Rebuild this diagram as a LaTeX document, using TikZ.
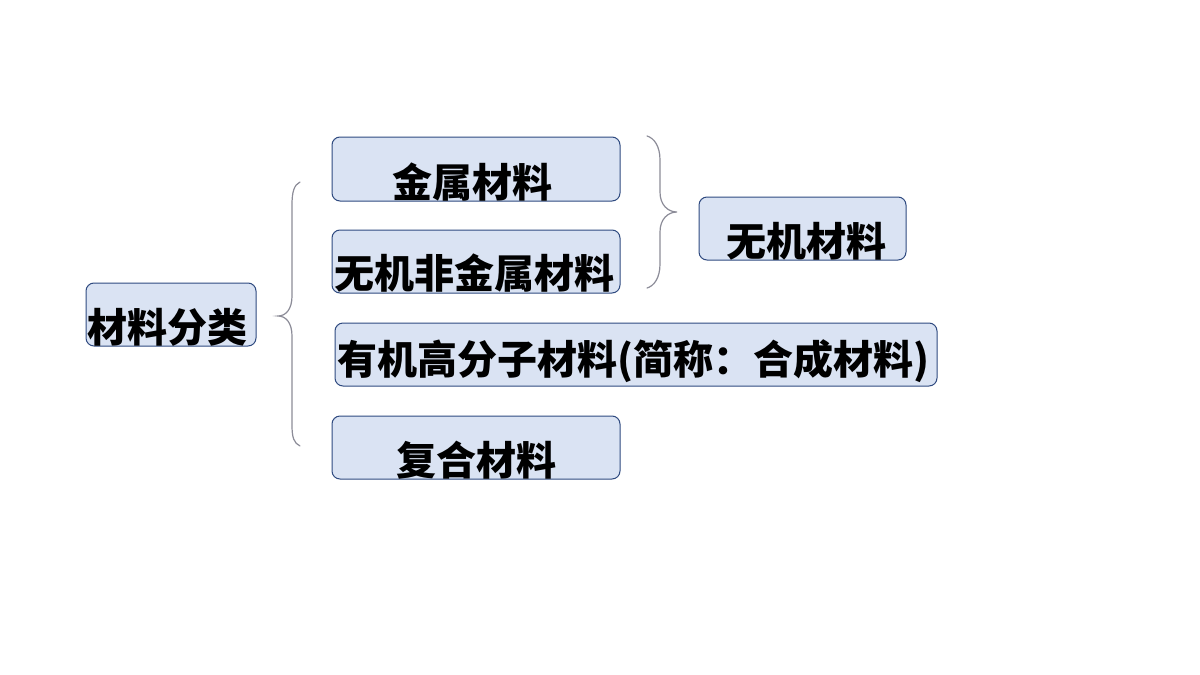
\documentclass[tikz,border=0pt]{standalone}
\usepackage{fontspec}
\newfontfamily\cjk{Noto Sans CJK SC}
\definecolor{boxfill}{HTML}{DAE3F3}
\definecolor{boxline}{HTML}{2F4A80}
\definecolor{bracecol}{HTML}{8C8C98}
\tikzset{
  catbox/.style={draw=boxline, line width=1pt, fill=boxfill, rounded corners=8pt, inner sep=0pt},
  cattext/.style={font=\cjk\bfseries\fontsize{40}{46}\selectfont, text=black, inner sep=0pt},
  bracepath/.style={draw=bracecol, line width=1.2pt, line cap=round}
}
\begin{document}
\begin{tikzpicture}[x=1pt,y=-1pt]
\useasboundingbox (0,0) rectangle (1200,675);
\fill[white] (0,0) rectangle (1200,675);
% boxes
\node[catbox, minimum width=170pt, minimum height=63pt] (root) at (171,314.5) {};
\node[catbox, minimum width=288pt, minimum height=64pt] (metal) at (476,169) {};
\node[catbox, minimum width=288pt, minimum height=63pt] (nonmetal) at (476,261.5) {};
\node[catbox, minimum width=602pt, minimum height=63pt] (polymer) at (636,354.5) {};
\node[catbox, minimum width=288pt, minimum height=63pt] (composite) at (476,447.5) {};
\node[catbox, minimum width=207pt, minimum height=63pt] (inorganic) at (802.5,228.5) {};
% texts
\node[cattext] (troot) at (167,327) {材料分类};
\node[cattext] (tmetal) at (472,182) {金属材料};
\node[cattext] (tnonmetal) at (474,273) {无机非金属材料};
\node[cattext] (tpolymer) at (633,361) {有机高分子材料(简称：合成材料)};
\node[cattext] (tcomposite) at (476,460) {复合材料};
\node[cattext] (tinorganic) at (806,241) {无机材料};
% left brace
\draw[bracepath] (300,182) .. controls (294,185) and (292,192) .. (292,205)
  -- (292,296) .. controls (292,309) and (286,316) .. (278,316)
  .. controls (286,316) and (292,323) .. (292,336)
  -- (292,425) .. controls (292,438) and (294,443) .. (300,446);
% right brace
\draw[bracepath] (647,136) .. controls (654,138) and (660,146) .. (660,160)
  -- (660,192) .. controls (660,205) and (668,212) .. (677,212)
  .. controls (668,212) and (660,219) .. (660,232)
  -- (660,264) .. controls (660,278) and (654,286) .. (647,288);
\end{tikzpicture}
\end{document}
